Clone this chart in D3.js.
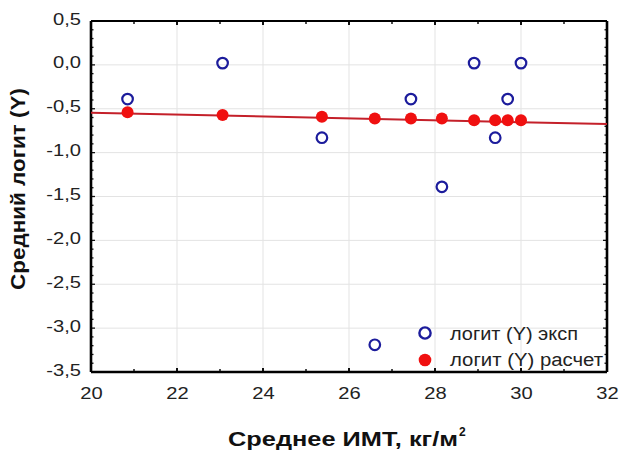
<!DOCTYPE html>
<html>
<head>
<meta charset="utf-8">
<script src="https://cdn.jsdelivr.net/npm/d3@7"></script>
<style>
  html, body { margin: 0; padding: 0; background: #fff; }
  svg { display: block; font-family: "Liberation Sans", Arial, sans-serif; }
</style>
</head>
<body>
<svg id="chart" width="621" height="450"></svg>
<script>
// Mean BMI per group
const bmi = [20.85, 23.06, 25.37, 26.60, 27.44, 28.16, 28.91, 29.40, 29.69, 30.0];
// Experimental mean logit (Y)
const logitExp = [-0.39, 0.02, -0.83, -3.19, -0.39, -1.39, 0.02, -0.83, -0.39, 0.02];
// Calculated mean logit (Y)
const logitCalc = [-0.54, -0.57, -0.59, -0.61, -0.61, -0.61, -0.63, -0.63, -0.63, -0.63];
// Regression line end points
const fitX = [20, 32];
const fitY = [-0.545, -0.675];

const xTicks = [20, 22, 24, 26, 28, 30, 32];
const yTicks = [0.5, 0.0, -0.5, -1.0, -1.5, -2.0, -2.5, -3.0, -3.5];
const legendLabels = ["логит (Y) эксп", "логит (Y) расчет"];

const svg = d3.select("#chart");
const m = { left: 91, top: 21, right: 607, bottom: 372 };
const SX = 1.26;            // horizontal widening of label glyphs
const FONT = "'Liberation Sans', Arial, sans-serif";

const x = d3.scaleLinear().domain([20, 32]).range([m.left, m.right]);
const y = d3.scaleLinear().domain([-3.5, 0.5]).range([m.bottom, m.top]);
const fmt = v => d3.format(".1f")(v).replace(".", ",").replace("−", "-");

// grid
const grid = svg.append("g").attr("stroke", "#e3e3e3").attr("stroke-width", 1);
xTicks.slice(1, -1).forEach(t => grid.append("line")
  .attr("x1", x(t)).attr("x2", x(t)).attr("y1", m.top).attr("y2", m.bottom));
yTicks.slice(1, -1).forEach(t => grid.append("line")
  .attr("x1", m.left).attr("x2", m.right).attr("y1", y(t)).attr("y2", y(t)));

// minor / major ticks on all four sides, pointing inward
const xMinor = d3.range(21, 32, 1);
const yMinor = d3.range(-3.5, 0.5001, 0.1);
const tk = svg.append("g").attr("stroke", "#111");
xMinor.forEach(t => {
  const major = t % 2 === 0;
  const len = major ? 4 : 3;
  tk.append("line").attr("x1", x(t)).attr("x2", x(t))
    .attr("y1", m.bottom).attr("y2", m.bottom - len).attr("stroke-width", major ? 2 : 1.5);
  tk.append("line").attr("x1", x(t)).attr("x2", x(t))
    .attr("y1", m.top).attr("y2", m.top + len).attr("stroke-width", major ? 2 : 1.5);
});
yMinor.forEach(t => {
  const major = Math.abs(t * 2 - Math.round(t * 2)) < 1e-6;
  const len = major ? 4 : 2.5;
  tk.append("line").attr("y1", y(t)).attr("y2", y(t))
    .attr("x1", m.left).attr("x2", m.left + len).attr("stroke-width", 1.3);
  tk.append("line").attr("y1", y(t)).attr("y2", y(t))
    .attr("x1", m.right).attr("x2", m.right - len).attr("stroke-width", 1.3);
});

// axis frame
const frame = svg.append("g").attr("stroke", "#000").attr("fill", "none");
frame.append("line").attr("x1", m.left).attr("x2", m.right).attr("y1", m.top).attr("y2", m.top).attr("stroke-width", 1.8);
frame.append("line").attr("x1", m.left).attr("x2", m.right).attr("y1", m.bottom).attr("y2", m.bottom).attr("stroke-width", 2.6);
frame.append("line").attr("x1", m.left).attr("x2", m.left).attr("y1", m.top).attr("y2", m.bottom).attr("stroke-width", 2.6);
frame.append("line").attr("x1", m.right).attr("x2", m.right).attr("y1", m.top).attr("y2", m.bottom).attr("stroke-width", 2.6);

// widen an axis label horizontally while keeping its anchor point
function widen(sel) {
  sel.each(function () {
    const t = d3.select(this);
    const x0 = +t.attr("x") || 0;
    t.attr("x", x0 / SX).attr("transform", `scale(${SX},1)`);
  });
}

// tick labels via d3 axes (lines hidden, frame drawn above)
const xAxis = svg.append("g").attr("transform", `translate(0,${m.bottom})`)
  .call(d3.axisBottom(x).tickValues(xTicks).tickSize(0).tickPadding(16).tickFormat(d3.format("d")));
const yAxis = svg.append("g").attr("transform", `translate(${m.left},-2)`)
  .call(d3.axisLeft(y).tickValues(yTicks).tickSize(0).tickPadding(10).tickFormat(fmt));
[xAxis, yAxis].forEach(a => {
  a.select(".domain").remove();
  a.selectAll("text").attr("font-size", 16).attr("fill", "#222").attr("font-family", FONT);
  widen(a.selectAll("text"));
});

// regression line
svg.append("line")
  .attr("x1", x(fitX[0])).attr("y1", y(fitY[0]))
  .attr("x2", x(fitX[1])).attr("y2", y(fitY[1]))
  .attr("stroke", "#c4202a").attr("stroke-width", 2);

// calculated points
svg.append("g").selectAll("circle").data(bmi).join("circle")
  .attr("cx", d => x(d)).attr("cy", (d, i) => y(logitCalc[i]))
  .attr("r", 6).attr("fill", "#f01010");

// experimental points
svg.append("g").selectAll("circle").data(bmi).join("circle")
  .attr("cx", d => x(d)).attr("cy", (d, i) => y(logitExp[i]))
  .attr("r", 5.3).attr("fill", "none").attr("stroke", "#1c1c9c").attr("stroke-width", 2.2);

// legend
const lg = svg.append("g");
lg.append("circle").attr("cx", 425).attr("cy", 333).attr("r", 5.6)
  .attr("fill", "none").attr("stroke", "#1c1c9c").attr("stroke-width", 2.4);
lg.append("circle").attr("cx", 425).attr("cy", 360).attr("r", 6.3).attr("fill", "#f01010");
const legendLen = [128, 153];
legendLabels.forEach((t, i) => lg.append("text")
  .attr("x", 450).attr("y", 340 + i * 26).attr("font-size", 18).attr("fill", "#222")
  .attr("textLength", legendLen[i]).attr("lengthAdjust", "spacingAndGlyphs").text(t));

// axis titles
svg.append("text").attr("x", 228).attr("y", 446)
  .attr("font-size", 21).attr("font-weight", "bold").attr("fill", "#111")
  .attr("textLength", 230).attr("lengthAdjust", "spacingAndGlyphs")
  .text("Среднее ИМТ, кг/м");
svg.append("text").attr("x", 459).attr("y", 436)
  .attr("font-size", 12).attr("font-weight", "bold").attr("fill", "#111").text("2");
svg.append("text").attr("transform", `translate(25,189) rotate(-90)`)
  .attr("text-anchor", "middle").attr("font-size", 20).attr("font-weight", "bold")
  .attr("fill", "#111").attr("textLength", 202).attr("lengthAdjust", "spacingAndGlyphs")
  .text("Средний логит (Y)");
</script>
</body>
</html>
